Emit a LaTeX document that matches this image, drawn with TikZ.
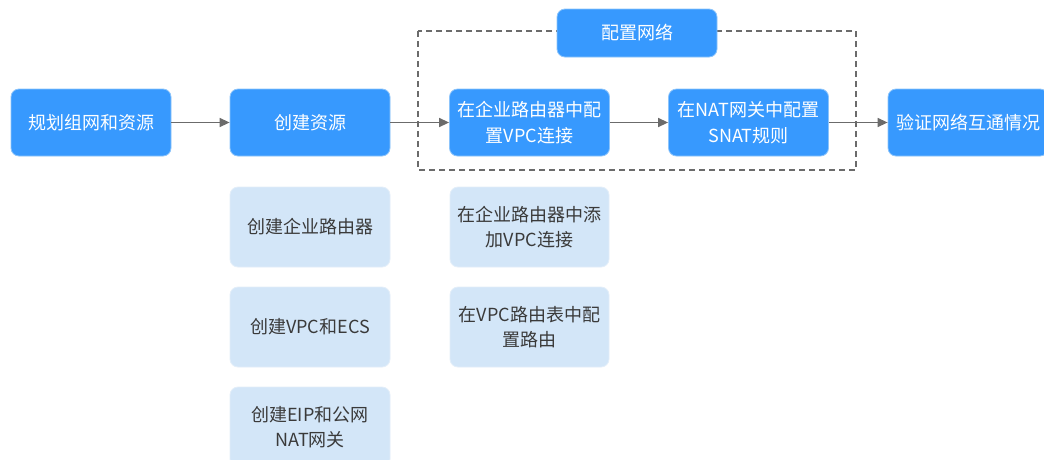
\documentclass[tikz,border=0pt]{standalone}
\usepackage{fontspec}
\setmainfont{Noto Sans CJK SC}
\usetikzlibrary{arrows.meta}
\definecolor{bluebox}{HTML}{3799FE}
\definecolor{bluebord}{HTML}{8CC4FB}
\definecolor{lightbox}{HTML}{D3E6F8}
\definecolor{lightbord}{HTML}{E3EEF9}
\definecolor{darktext}{HTML}{3A3A3A}
\definecolor{linegray}{HTML}{6B6B6B}
\tikzset{
  x=1pt, y=-1pt,
  base/.style={rounded corners=8pt, minimum width=160pt, align=center, font=\fontsize{18}{25.5}\selectfont, inner sep=0pt},
  bluenode/.style={base, fill=bluebox, draw=bluebord, line width=0.8pt, text=white, minimum height=67pt},
  lightnode/.style={base, fill=lightbox, draw=lightbord, line width=0.8pt, text=darktext, minimum height=80pt},
  conn/.style={draw=linegray, line width=1.4pt, -{Triangle[length=10pt, width=9pt]}},
  dashbox/.style={draw=linegray, line width=1.3pt, dash pattern=on 6pt off 4pt},
}
\begin{document}
\begin{tikzpicture}
\useasboundingbox (0,0) rectangle (1044,459);
\clip (0,0) rectangle (1044,459);
\fill[white] (0,0) rectangle (1044,459);
\draw[dashbox] (418,31) rectangle (856,170);
\node[bluenode, minimum height=48pt] (cfg) at (637,33) {配置网络};
\node[bluenode] (plan) at (91,122.5) {规划组网和资源};
\node[bluenode] (create) at (310,122.5) {创建资源};
\node[bluenode] (er) at (529.5,122.5) {在企业路由器中配\\置VPC连接};
\node[bluenode] (nat) at (748.5,122.5) {在NAT网关中配置\\SNAT规则};
\node[bluenode] (verify) at (968,122.5) {验证网络互通情况};
\node[lightnode] (c1) at (310,227) {创建企业路由器};
\node[lightnode] (c2) at (310,327) {创建VPC和ECS};
\node[lightnode] (c3) at (310,427) {创建EIP和公网\\NAT网关};
\node[lightnode, minimum width=159pt] (d1) at (529.5,227) {在企业路由器中添\\加VPC连接};
\node[lightnode, minimum width=159pt] (d2) at (529.5,327) {在VPC路由表中配\\置路由};
\draw[conn] (plan) -- (create);
\draw[conn] (create) -- (er);
\draw[conn] (er) -- (nat);
\draw[conn] (nat) -- (verify);
\end{tikzpicture}
\end{document}
